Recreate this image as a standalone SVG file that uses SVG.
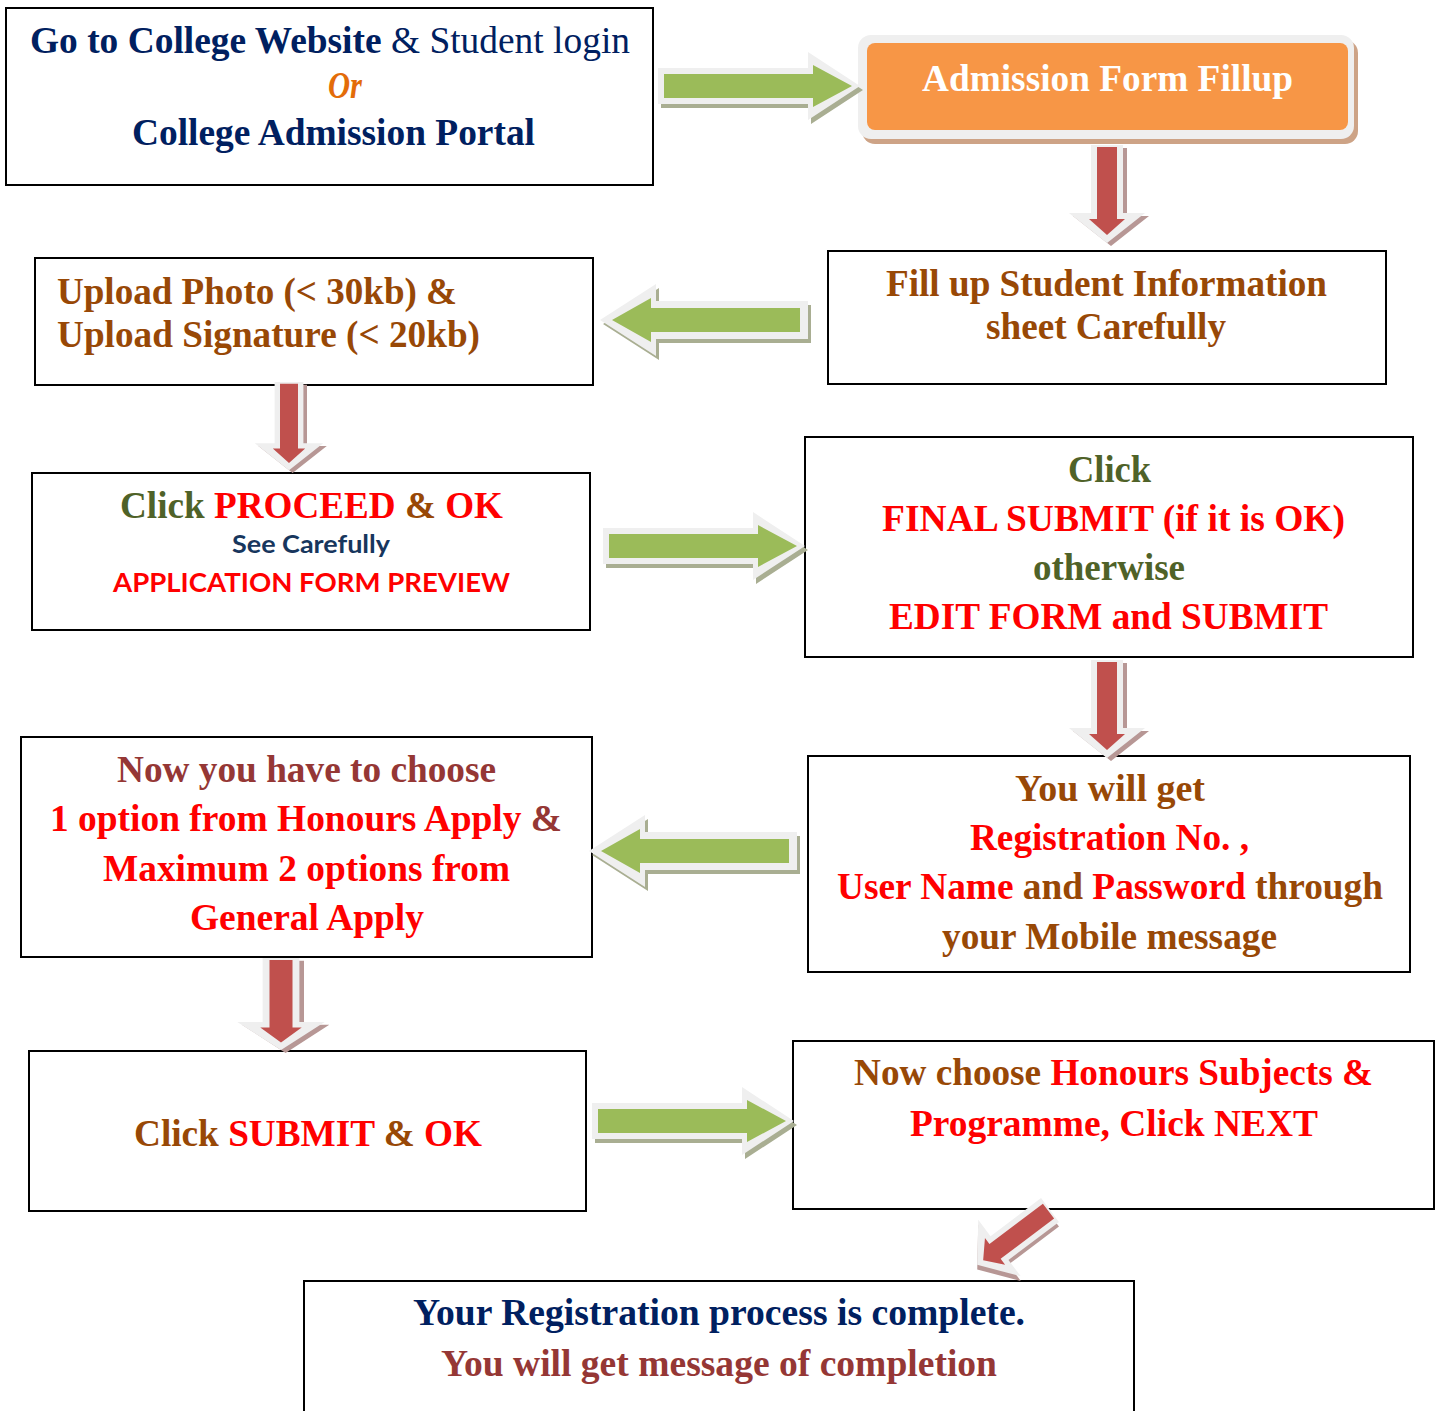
<svg xmlns="http://www.w3.org/2000/svg" xmlns:xlink="http://www.w3.org/1999/xlink" width="1438" height="1411" viewBox="0 0 1438 1411">
<style>
.b{fill:#fff;stroke:#000;stroke-width:2}
.t{font-family:"Liberation Serif","Times New Roman",serif;font-weight:bold;font-size:38px}
.s{font-family:Lato,"Open Sans",sans-serif;font-weight:bold}
.nv{fill:#002060}.br{fill:#984806}.ol{fill:#4F6228}.rd{fill:#FF0000}.dr{fill:#953735}.or{fill:#E36C09}.wh{fill:#fff}.dn{fill:#17365D}
.gs{fill:#a9ae92}.go{fill:#efefef}.gi{fill:#9BBB59}
.rs{fill:#b79795}.ri{fill:#C0504D}
</style>
<defs>
<g id="gR">
<path class="gs" transform="translate(3,4)" d="M-6,-18 H144 V-34 L196,0 L144,34 V18 H-6 Z"/>
<path class="go" d="M-6,-18 H144 V-34 L196,0 L144,34 V18 H-6 Z"/>
<path class="gi" d="M0,-12 H149 V-21 L188,0 L149,21 V12 H0 Z"/>
</g>
<g id="gL">
<path class="gs" transform="translate(3,4)" d="M8,-19 H-144 V-36 L-200,0 L-144,36 V19 H8 Z"/>
<path class="go" d="M8,-19 H-144 V-36 L-200,0 L-144,36 V19 H8 Z"/>
<path class="gi" d="M0,-12 H-149 V-22 L-188,0 L-149,22 V12 H0 Z"/>
</g>
<g id="rD">
<path class="rs" transform="translate(4,3)" d="M-16,0 H16 V68 H38 L0,98 L-38,68 H-16 Z"/>
<path class="go" d="M-16,0 H16 V68 H38 L0,98 L-38,68 H-16 Z"/>
<path class="ri" d="M-10,2 H10 V74 H18 L0,90 L-18,74 H-10 Z"/>
</g>
</defs>
<rect width="1438" height="1411" fill="#fff"/>

<g id="n1">
<rect class="b" x="6" y="8" width="647" height="177"/>
<text class="t nv" x="30" y="53" textLength="600" lengthAdjust="spacingAndGlyphs">Go to College Website<tspan font-weight="normal"> &amp; Student login</tspan></text>
<text class="t or" x="328" y="98" font-size="29" font-style="italic" textLength="34" lengthAdjust="spacingAndGlyphs">Or</text>
<text class="t nv" x="132" y="145" textLength="403" lengthAdjust="spacingAndGlyphs">College Admission Portal</text>
</g>

<g id="n2">
<rect x="862" y="40" width="496" height="104" rx="13" fill="#cda386"/>
<rect x="858" y="35" width="496" height="104" rx="13" fill="#efefef"/>
<rect x="867" y="43" width="481" height="87" rx="8" fill="#F79646"/>
<text class="t wh" x="922" y="91" textLength="371" lengthAdjust="spacingAndGlyphs">Admission Form Fillup</text>
</g>

<g id="n3">
<rect class="b" x="828" y="251" width="558" height="133"/>
<text class="t br" x="886" y="296" textLength="441" lengthAdjust="spacingAndGlyphs">Fill up Student Information</text>
<text class="t br" x="986" y="339" textLength="240" lengthAdjust="spacingAndGlyphs">sheet Carefully</text>
</g>

<g id="n4">
<rect class="b" x="35" y="258" width="558" height="127"/>
<text class="t br" x="57" y="304" textLength="400" lengthAdjust="spacingAndGlyphs">Upload Photo (&lt; 30kb) &amp;</text>
<text class="t br" x="57" y="347" textLength="423" lengthAdjust="spacingAndGlyphs">Upload Signature (&lt; 20kb)</text>
</g>

<g id="n5">
<rect class="b" x="32" y="473" width="558" height="157"/>
<text class="t" x="120" y="518" textLength="383" lengthAdjust="spacingAndGlyphs"><tspan class="ol">Click </tspan><tspan class="rd">PROCEED </tspan><tspan class="br">&amp; </tspan><tspan class="rd">OK</tspan></text>
<text class="s dn" x="232" y="553" font-size="24" textLength="158" lengthAdjust="spacingAndGlyphs">See Carefully</text>
<text class="s rd" x="113" y="592" font-size="27" textLength="397" lengthAdjust="spacingAndGlyphs">APPLICATION FORM PREVIEW</text>
</g>

<g id="n6">
<rect class="b" x="805" y="437" width="608" height="220"/>
<text class="t ol" x="1068" y="482" textLength="83" lengthAdjust="spacingAndGlyphs">Click</text>
<text class="t rd" x="882" y="531" textLength="463" lengthAdjust="spacingAndGlyphs">FINAL SUBMIT (if it is OK)</text>
<text class="t ol" x="1033" y="580" textLength="152" lengthAdjust="spacingAndGlyphs">otherwise</text>
<text class="t rd" x="889" y="629" textLength="439" lengthAdjust="spacingAndGlyphs">EDIT FORM and SUBMIT</text>
</g>

<g id="n7">
<rect class="b" x="21" y="737" width="571" height="220"/>
<text class="t dr" x="117" y="782" textLength="379" lengthAdjust="spacingAndGlyphs">Now you have to choose</text>
<text class="t" x="50" y="831" textLength="512" lengthAdjust="spacingAndGlyphs"><tspan class="rd">1 option from Honours Apply </tspan><tspan class="dr">&amp;</tspan></text>
<text class="t rd" x="103" y="881" textLength="407" lengthAdjust="spacingAndGlyphs">Maximum 2 options from</text>
<text class="t rd" x="190" y="930" textLength="234" lengthAdjust="spacingAndGlyphs">General Apply</text>
</g>

<g id="n8">
<rect class="b" x="808" y="756" width="602" height="216"/>
<text class="t br" x="1015" y="801" textLength="190" lengthAdjust="spacingAndGlyphs">You will get</text>
<text class="t rd" x="970" y="850" textLength="279" lengthAdjust="spacingAndGlyphs">Registration No. ,</text>
<text class="t" x="837" y="899" textLength="546" lengthAdjust="spacingAndGlyphs"><tspan class="rd">User Name </tspan><tspan class="br">and </tspan><tspan class="rd">Password </tspan><tspan class="br">through</tspan></text>
<text class="t br" x="942" y="949" textLength="335" lengthAdjust="spacingAndGlyphs">your Mobile message</text>
</g>

<g id="n9">
<rect class="b" x="29" y="1051" width="557" height="160"/>
<text class="t" x="134" y="1146" textLength="348" lengthAdjust="spacingAndGlyphs"><tspan class="br">Click </tspan><tspan class="rd">SUBMIT </tspan><tspan class="br">&amp; </tspan><tspan class="rd">OK</tspan></text>
</g>

<g id="n10">
<rect class="b" x="793" y="1041" width="641" height="168"/>
<text class="t" x="854" y="1085" textLength="519" lengthAdjust="spacingAndGlyphs"><tspan class="br">Now choose </tspan><tspan class="rd">Honours Subjects &amp;</tspan></text>
<text class="t rd" x="910" y="1136" textLength="408" lengthAdjust="spacingAndGlyphs">Programme, Click NEXT</text>
</g>

<g id="n11">
<rect class="b" x="304" y="1281" width="830" height="150"/>
<text class="t nv" x="413" y="1325" textLength="612" lengthAdjust="spacingAndGlyphs">Your Registration process is complete.</text>
<text class="t dr" x="441" y="1376" textLength="556" lengthAdjust="spacingAndGlyphs">You will get message of completion</text>
</g>

<g id="connectors">
<use xlink:href="#gR" transform="translate(664,86)"/>
<use xlink:href="#rD" transform="translate(1107,145)"/>
<use xlink:href="#gL" transform="translate(800,320)"/>
<use xlink:href="#rD" transform="translate(289,382) scale(0.9,0.9)"/>
<use xlink:href="#gR" transform="translate(609,546)"/>
<use xlink:href="#rD" transform="translate(1107,660)"/>
<use xlink:href="#gL" transform="translate(789,851)"/>
<use xlink:href="#rD" transform="translate(281,958) scale(1.15,0.94)"/>
<use xlink:href="#gR" transform="translate(598,1121)"/>
<use xlink:href="#rD" transform="translate(1050,1210) rotate(53) scale(0.93)"/>
</g>
</svg>
